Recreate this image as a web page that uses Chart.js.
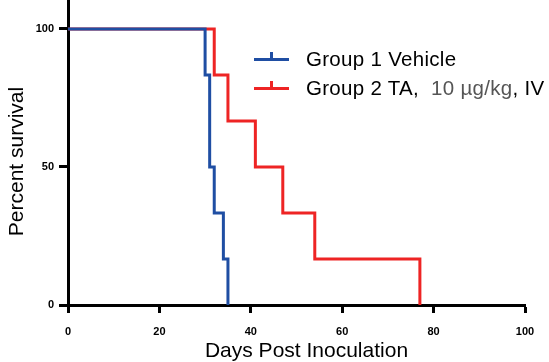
<!DOCTYPE html>
<html>
<head>
<meta charset="utf-8">
<script src="https://cdn.jsdelivr.net/npm/chart.js@4/dist/chart.umd.min.js"></script>
<style>
  html, body { margin: 0; padding: 0; background: #fff; }
  #wrap { position: relative; width: 549px; height: 362px; }
  canvas { display: block; }
  #legend { position: absolute; left: 254px; top: 45px; font-family: "Liberation Sans", Arial, sans-serif; font-size: 20.5px; letter-spacing: 0.3px; color: #000; }
  .item { position: relative; height: 29px; white-space: pre; }
  .mk { position: absolute; left: 0; top: 13px; width: 35px; height: 3px; }
  .mk .tk { position: absolute; left: 16px; top: -6px; width: 3px; height: 6px; }
  .txt { position: absolute; left: 52px; top: 2px; line-height: 24px; }
  .gray { color: #555; }
</style>
</head>
<body>
<div id="wrap">
  <canvas id="c" width="549" height="362"></canvas>
  <div id="legend"></div>
</div>
<script>
// Kaplan-Meier event times (days) and survival (%)
const group1Days = [0, 30, 31, 32, 34, 35];
const group1Survival = [100, 83.33, 50, 33.33, 16.67, 0];
const group2Days = [0, 32, 35, 41, 47, 54, 77];
const group2Survival = [100, 83.33, 66.67, 50, 33.33, 16.67, 0];
const xTicks = [0, 20, 40, 60, 80, 100];
const yTicks = [0, 50, 100];
const seriesLabels = ["Group 1 Vehicle", "Group 2 TA,  10 µg/kg, IV"];
const seriesColors = ["#1f4ea3", "#ee2424"];

const toPts = (xs, ys) => xs.map((x, i) => ({ x: x, y: ys[i] }));
const FONT = "'Liberation Sans', Arial, sans-serif";

// shift an axis title by a few pixels
function shiftTitle(s, dx, dy) {
  if (s._shifted) return;
  s._shifted = true;
  const orig = s.drawTitle;
  s.drawTitle = function () {
    const ctx = this.ctx;
    ctx.save(); ctx.translate(dx, dy);
    orig.apply(this, arguments);
    ctx.restore();
  };
}

new Chart(document.getElementById('c'), {
  type: 'line',
  data: {
    datasets: [
      { label: seriesLabels[0], data: toPts(group1Days, group1Survival), borderColor: seriesColors[0], borderWidth: 3, pointRadius: 0, stepped: true, fill: false },
      { label: seriesLabels[1], data: toPts(group2Days, group2Survival), borderColor: seriesColors[1], borderWidth: 3, pointRadius: 0, stepped: true, fill: false }
    ]
  },
  options: {
    responsive: false,
    animation: false,
    layout: { padding: { left: 0, right: 24, top: 0, bottom: 0 } },
    plugins: { legend: { display: false }, tooltip: { enabled: false } },
    scales: {
      x: {
        type: 'linear', min: 0, max: 100,
        afterBuildTicks: s => { s.ticks = xTicks.map(v => ({ value: v })); },
        afterFit: s => { s.height = 57; shiftTitle(s, 10, 2); },
        border: { display: true, color: '#000', width: 3 },
        grid: { drawOnChartArea: false, drawTicks: true, tickLength: 8, tickColor: '#000', tickWidth: 3 },
        ticks: { color: '#000', font: { family: FONT, size: 11, weight: 'bold' }, padding: 12, maxRotation: 0 },
        title: { display: true, text: 'Days Post Inoculation', color: '#000', font: { family: FONT, size: 21 }, padding: { top: 0, bottom: 0 } }
      },
      y: {
        type: 'linear', min: 0, max: 110.5,
        afterBuildTicks: s => { s.ticks = yTicks.map(v => ({ value: v })); },
        afterFit: s => { s.width = 68; s.paddingTop = 0; s.paddingBottom = 0; shiftTitle(s, 0, 9); },
        border: { display: true, color: '#000', width: 3 },
        grid: { drawOnChartArea: false, drawTicks: true, tickLength: 9, tickColor: '#000', tickWidth: 3 },
        ticks: { color: '#000', font: { family: FONT, size: 11, weight: 'bold' }, padding: 5 },
        title: { display: true, text: 'Percent survival', color: '#000', font: { family: FONT, size: 21 }, padding: { top: 5, bottom: 0 } }
      }
    }
  }
});

// HTML legend built from the series labels
const leg = document.getElementById('legend');
seriesLabels.forEach((lab, i) => {
  const it = document.createElement('div'); it.className = 'item';
  const mk = document.createElement('div'); mk.className = 'mk'; mk.style.background = seriesColors[i];
  const tk = document.createElement('div'); tk.className = 'tk'; tk.style.background = seriesColors[i];
  mk.appendChild(tk);
  const tx = document.createElement('div'); tx.className = 'txt';
  const m = lab.match(/^(.*?,\s+)(\d+ µg\/kg)(.*)$/);
  if (m) {
    tx.appendChild(document.createTextNode(m[1]));
    const g = document.createElement('span'); g.className = 'gray'; g.textContent = m[2];
    tx.appendChild(g);
    tx.appendChild(document.createTextNode(m[3]));
  } else { tx.textContent = lab; }
  it.appendChild(mk); it.appendChild(tx); leg.appendChild(it);
});
</script>
</body>
</html>
